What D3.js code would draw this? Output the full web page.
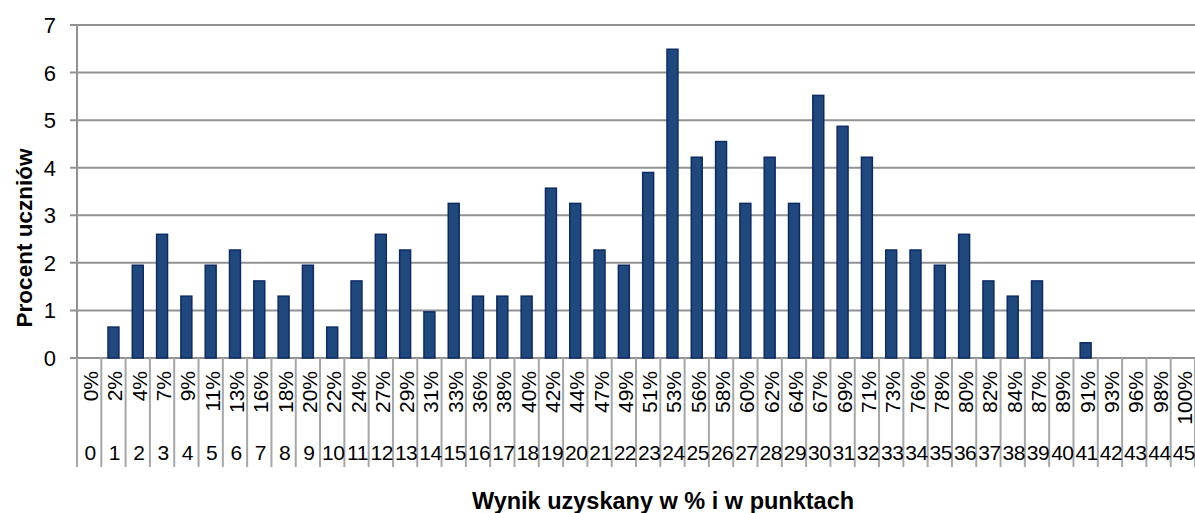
<!DOCTYPE html>
<html>
<head>
<meta charset="utf-8">
<script src="https://cdn.jsdelivr.net/npm/d3@7"></script>
<style>
  body { margin: 0; background: #fff; }
  svg { display: block; font-family: "Liberation Sans", Arial, sans-serif; }
</style>
</head>
<body>
<div id="chart"></div>
<script>
// points scored (0..45)
const points = ["0","1","2","3","4","5","6","7","8","9","10","11","12","13","14","15","16","17","18","19","20","21","22","23","24","25","26","27","28","29","30","31","32","33","34","35","36","37","38","39","40","41","42","43","44","45"];
const percentLabels = ["0%","2%","4%","7%","9%","11%","13%","16%","18%","20%","22%","24%","27%","29%","31%","33%","36%","38%","40%","42%","44%","47%","49%","51%","53%","56%","58%","60%","62%","64%","67%","69%","71%","73%","76%","78%","80%","82%","84%","87%","89%","91%","93%","96%","98%","100%"];
// percent of students for each score
const values = [0, 0.65, 1.95, 2.6, 1.3, 1.95, 2.27, 1.62, 1.3, 1.95,
  0.65, 1.62, 2.6, 2.27, 0.97, 3.25, 1.3, 1.3, 1.3, 3.57,
  3.25, 2.27, 1.95, 3.9, 6.49, 4.22, 4.55, 3.25, 4.22, 3.25,
  5.52, 4.87, 4.22, 2.27, 2.27, 1.95, 2.6, 1.62, 1.3, 1.62,
  0, 0.32, 0, 0, 0, 0];
const yTicks = [0, 1, 2, 3, 4, 5, 6, 7];

const width = 1195, height = 513;
const margin = { top: 25, right: 0, bottom: 155, left: 77 };

const svg = d3.select("#chart").append("svg")
  .attr("width", width)
  .attr("height", height);

const x = d3.scaleBand()
  .domain(points)
  .range([margin.left, width - margin.right]);

const y = d3.scaleLinear()
  .domain([0, 7])
  .range([height - margin.bottom, margin.top]);

const gridColor = "#929292";

// Gridlines
svg.append("g")
  .selectAll("line")
  .data(yTicks)
  .enter().append("line")
  .attr("x1", margin.left - 7)
  .attr("x2", width)
  .attr("y1", d => y(d))
  .attr("y2", d => y(d))
  .attr("stroke", gridColor)
  .attr("stroke-width", 2);

// Y axis line
svg.append("line")
  .attr("x1", margin.left).attr("x2", margin.left)
  .attr("y1", y(7)).attr("y2", y(0))
  .attr("stroke", gridColor)
  .attr("stroke-width", 2);

// Y tick labels
svg.append("g")
  .selectAll("text")
  .data(yTicks)
  .enter().append("text")
  .attr("x", 56)
  .attr("y", d => y(d) + 8)
  .attr("text-anchor", "end")
  .style("font-size", "22px")
  .text(d => d);

// Category separators below axis
const sepEdges = points.map(p => x(p)).concat([x(points[points.length - 1]) + x.bandwidth()]);
svg.append("g")
  .selectAll("line")
  .data(sepEdges)
  .enter().append("line")
  .attr("x1", d => d).attr("x2", d => d)
  .attr("y1", y(0)).attr("y2", 467)
  .attr("stroke", "#a6a6a6")
  .attr("stroke-width", 2);

// Bars
const barW = x.bandwidth() * 0.45;
svg.append("g")
  .selectAll("rect")
  .data(points.map((p, i) => ({ p, v: values[i] })).filter(d => d.v > 0))
  .enter().append("rect")
  .attr("x", d => x(d.p) + (x.bandwidth() - barW) / 2)
  .attr("y", d => y(d.v))
  .attr("width", barW)
  .attr("height", d => y(0) - y(d.v))
  .attr("fill", "#1f497d")
  .attr("stroke", "#0d2a66")
  .attr("stroke-width", 1.5);

// Percent labels (rotated)
svg.append("g")
  .selectAll("text")
  .data(percentLabels)
  .enter().append("text")
  .attr("transform", (d, i) => `translate(${x(points[i]) + x.bandwidth() / 2 + 9},371) rotate(-90)`)
  .attr("text-anchor", "end")
  .style("font-size", "21px")
  .text(d => d);

// Point labels
svg.append("g")
  .selectAll("text")
  .data(points)
  .enter().append("text")
  .attr("x", d => x(d) + x.bandwidth() / 2 + 1)
  .attr("y", 460)
  .attr("text-anchor", "middle")
  .style("font-size", "21px")
  .style("letter-spacing", "-0.5px")
  .text(d => d);

// Axis titles
svg.append("text")
  .attr("x", 663)
  .attr("y", 509)
  .attr("text-anchor", "middle")
  .style("font-size", "23.5px")
  .style("font-weight", "bold")
  .text("Wynik uzyskany w % i w punktach");

svg.append("text")
  .attr("transform", "translate(32,238) rotate(-90)")
  .attr("text-anchor", "middle")
  .style("font-size", "22.5px")
  .style("font-weight", "bold")
  .text("Procent uczniów");
</script>
</body>
</html>
